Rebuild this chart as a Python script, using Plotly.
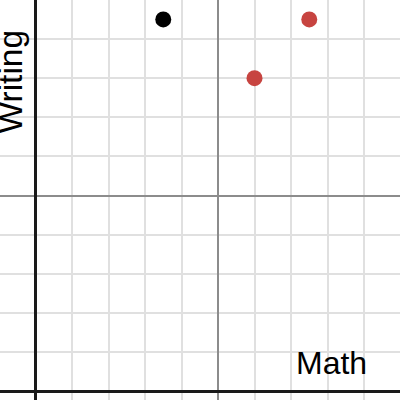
import plotly.graph_objects as go

# data
math_black = [35]
writing_black = [95]
math_red = [75, 60]
writing_red = [95, 80]
x_label = "Math"
y_label = "Writing"

fig = go.Figure()
fig.add_trace(go.Scatter(x=math_black, y=writing_black, mode="markers",
                         marker=dict(size=16, color="#000000", line=dict(width=0)),
                         showlegend=False, hoverinfo="skip"))
fig.add_trace(go.Scatter(x=math_red, y=writing_red, mode="markers",
                         marker=dict(size=16, color="#c74440", line=dict(width=0)),
                         showlegend=False, hoverinfo="skip"))

axis_common = dict(
    showticklabels=False, ticks="", showline=False,
    dtick=50, tick0=0, showgrid=True, gridcolor="#8c8c8c", gridwidth=2,
    minor=dict(dtick=10, tick0=0, showgrid=True, gridcolor="#e0e0e0", gridwidth=2),
    zeroline=True, zerolinecolor="#1a1a1a", zerolinewidth=3,
    fixedrange=True,
)

fig.update_layout(
    width=400, height=400,
    margin=dict(l=0, r=0, t=0, b=0),
    paper_bgcolor="white", plot_bgcolor="white",
    xaxis=dict(range=[-9.73, 99.86], **axis_common),
    yaxis=dict(range=[-2.17, 99.95], **axis_common),
    font=dict(family="Liberation Sans, Arial, sans-serif", color="#000000"),
    annotations=[
        dict(text=x_label, xref="paper", yref="paper", x=331.5/400, y=1-363/400,
             xanchor="center", yanchor="middle", showarrow=False,
             font=dict(size=32, color="#000000")),
        dict(text=y_label, xref="paper", yref="paper", x=10.5/400, y=1-82/400,
             xanchor="center", yanchor="middle", showarrow=False, textangle=-90,
             font=dict(size=33.5, color="#000000")),
    ],
)

fig.write_html("out.html", config={"displayModeBar": False},
               post_script="document.body.style.margin='0';document.body.style.padding='0';")
